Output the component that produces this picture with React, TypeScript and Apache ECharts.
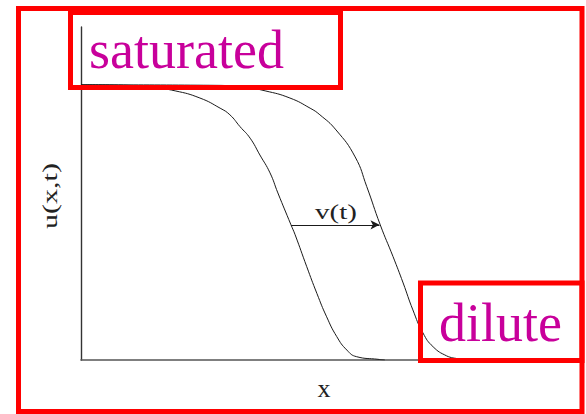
import React, { useEffect, useRef } from "react";
import * as echarts from "echarts";

// Concentration front u(x,t) at two successive times
const xEarly = [0, 1.2, 1.9, 2.51, 3.17, 3.71, 3.97, 4.24, 4.51, 4.77, 5.04, 5.25, 5.6, 5.71, 6.02, 6.29, 6.55, 6.82, 7.09, 7.35, 7.92, 8.1];
const uEarly = [1, 0.998, 0.99, 0.978, 0.952, 0.915, 0.891, 0.848, 0.806, 0.745, 0.68, 0.607, 0.491, 0.455, 0.339, 0.242, 0.157, 0.085, 0.036, 0.012, 0.0025, 0];
const xLate = [0, 3.6, 4.4, 4.91, 5.57, 6.11, 6.37, 6.8, 7.31, 7.62, 7.98, 8.32, 8.59, 8.85, 9.12, 9.39, 9.75, 10];
const uLate = [1, 0.998, 0.99, 0.978, 0.952, 0.915, 0.891, 0.836, 0.738, 0.63, 0.491, 0.376, 0.28, 0.182, 0.098, 0.048, 0.015, 0.006];

// Front displacement between the two profiles at mid-height
const shiftLevel = 0.491;
const shiftFrom = 5.6;
const shiftTo = 7.96;

const xRange = [0, 10];
const uRange = [0, 1.21];

const SERIF = "Liberation Serif";
const RED = "#ff0000";
const MAGENTA = "#c8009b";

export default function App() {
  const ref = useRef<HTMLDivElement>(null);

  useEffect(() => {
    if (!ref.current) return;
    const chart = echarts.init(ref.current, null, { renderer: "svg" });
    const early = xEarly.map((x, i) => [x, uEarly[i]]);
    const late = xLate.map((x, i) => [x, uLate[i]]);

    const label = (text: string, size: number, fill: string) => ({
      text,
      fontSize: size,
      fontFamily: SERIF,
      fill,
    });

    chart.setOption({
      animation: false,
      backgroundColor: "#ffffff",
      grid: { left: 81, right: 130, top: 27, bottom: 54 },
      xAxis: {
        type: "value",
        min: xRange[0],
        max: xRange[1],
        axisLine: { show: true, lineStyle: { color: "#555", width: 1.6 } },
        axisTick: { show: false },
        axisLabel: { show: false },
        splitLine: { show: false },
      },
      yAxis: {
        type: "value",
        min: uRange[0],
        max: uRange[1],
        axisLine: { show: true, lineStyle: { color: "#333", width: 1.4 } },
        axisTick: { show: false },
        axisLabel: { show: false },
        splitLine: { show: false },
      },
      series: [
        {
          type: "line",
          data: early,
          showSymbol: false,
          smooth: 0.5,
          lineStyle: { color: "#1a1a1a", width: 1 },
          markLine: {
            silent: true,
            symbol: ["none", "arrow"],
            symbolSize: [7, 9],
            label: { show: false },
            lineStyle: { color: "#1a1a1a", width: 1, type: "solid" },
            data: [[{ coord: [shiftFrom, shiftLevel] }, { coord: [shiftTo, shiftLevel] }]],
          },
        },
        {
          type: "line",
          data: late,
          showSymbol: false,
          smooth: 0.5,
          lineStyle: { color: "#1a1a1a", width: 1 },
        },
      ],
      graphic: [
        {
          type: "text",
          x: 50,
          y: 196,
          rotation: Math.PI / 2,
          scaleX: 1.5,
          z: 50,
          style: { ...label("u(x,t)", 20, "#222"), textAlign: "center", textVerticalAlign: "middle" },
        },
        {
          type: "text",
          x: 324,
          y: 388,
          z: 50,
          style: { ...label("x", 26, "#222"), textAlign: "center", textVerticalAlign: "middle" },
        },
        {
          type: "text",
          x: 336,
          y: 212,
          scaleX: 1.45,
          z: 50,
          style: { ...label("v(t)", 20, "#222"), textAlign: "center", textVerticalAlign: "middle" },
        },
        {
          type: "text",
          x: 89,
          y: 50,
          z: 60,
          style: { ...label("saturated", 54, MAGENTA), textAlign: "left", textVerticalAlign: "middle" },
        },
        {
          type: "text",
          x: 439,
          y: 323,
          z: 60,
          style: { ...label("dilute", 54, MAGENTA), textAlign: "left", textVerticalAlign: "middle" },
        },
        {
          type: "rect",
          z: 100,
          shape: { x: 18.5, y: 8.5, width: 563.5, height: 403 },
          style: { fill: "none", stroke: RED, lineWidth: 5 },
        },
        {
          type: "rect",
          z: 100,
          shape: { x: 70.5, y: 12.5, width: 270, height: 75 },
          style: { fill: "none", stroke: RED, lineWidth: 5 },
        },
        {
          type: "rect",
          z: 100,
          shape: { x: 420.5, y: 283, width: 161.5, height: 77.5 },
          style: { fill: "none", stroke: RED, lineWidth: 5 },
        },
      ],
    });
    return () => chart.dispose();
  }, []);

  return (
    <div
      ref={ref}
      style={{ position: "fixed", left: 0, top: 0, width: 586, height: 414, background: "#fff" }}
    />
  );
}
